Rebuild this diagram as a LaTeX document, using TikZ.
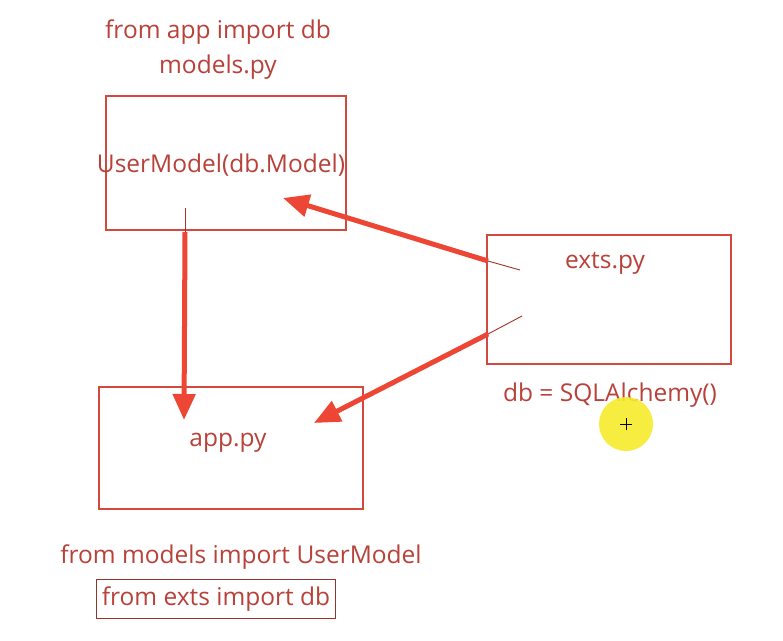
\documentclass[tikz,border=0pt]{standalone}
\usepackage{fontspec}
\setmainfont{Open Sans}
\usepackage{tikz}
\usetikzlibrary{arrows.meta,positioning,calc}
\definecolor{boxred}{HTML}{D24A3E}
\definecolor{txtred}{HTML}{B8413A}
\definecolor{arrred}{HTML}{EE4634}
\definecolor{hilite}{HTML}{F6EC2C}
\tikzset{
  filebox/.style={draw=boxred,line width=1.6pt},
  lbl/.style={text=txtred,font=\fontsize{24.5}{28}\selectfont,inner sep=1pt},
  thinpart/.style={draw=arrred!70!black,line width=0.9pt},
  thickpart/.style={draw=arrred,line width=5pt,-{Triangle[length=26pt,width=22pt]}}
}
\begin{document}
\begin{tikzpicture}[x=1pt,y=-1pt]
\useasboundingbox[fill=white] (0,0) rectangle (783,640);
%% the three boxes
\draw[filebox] (106,96) rectangle (346,230);
\draw[filebox] (487,235) rectangle (731,364);
\draw[filebox] (99,387) rectangle (363,509);
%% texts
\node[lbl] (imp) at (218,32) {from app import db};
\node[lbl] (models) at (218,67) {models.py};
\node[lbl] (user) at (221,165) {UserModel(db.Model)};
\node[lbl] (exts) at (605,263) {exts.py};
\node[lbl] (dbsql) at (610,395) {db = SQLAlchemy()};
\node[lbl] (app) at (228,443) {app.py};
\node[lbl] (impuser) at (241,557) {from models import UserModel};
\node[lbl,draw=txtred!80!black,line width=1.2pt,inner xsep=5pt,inner ysep=7pt] (impdb) at (216,599) {from exts import db};
%% the arrows
\path (185,208) coordinate (m0) (185,232) coordinate (m1) (184,420) coordinate (m2);
\path (520,270) coordinate (e0) (488,261) coordinate (e1) (283,198) coordinate (e2);
\path (522,316) coordinate (f0) (488,334) coordinate (f1) (314,423) coordinate (f2);
\draw[thinpart] (m0) -- (m1);
\draw[thickpart] (m1) -- (m2);
\draw[thinpart] (e0) -- (e1);
\draw[thickpart] (e1) -- (e2);
\draw[thinpart] (f0) -- (f1);
\draw[thickpart] (f1) -- (f2);
%% cursor spot
\fill[hilite,opacity=0.9] (626,424) circle (27);
\draw[line width=0.8pt] (620,424) -- (632,424) (626,418) -- (626,430);
\end{tikzpicture}
\end{document}
